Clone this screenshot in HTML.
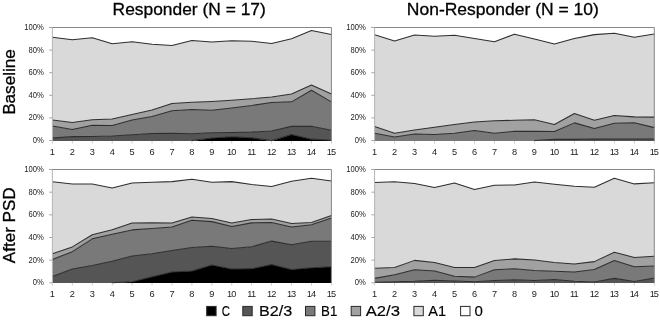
<!DOCTYPE html>
<html><head><meta charset="utf-8"><style>
html,body{margin:0;padding:0;background:#fff;}
body{width:660px;height:321px;overflow:hidden;}
svg{display:block;}
#w{filter:grayscale(1);width:660px;height:321px;}
text{font-family:"Liberation Sans",sans-serif;fill:#000;}
.yl{font-size:9px;fill:#222;}
.xl{font-size:9.2px;fill:#222;}
.lg{font-size:14px;stroke:#000;stroke-width:0.15px;}
.tt{font-size:17px;stroke:#000;stroke-width:0.3px;}
.rl{font-size:16.5px;stroke:#000;stroke-width:0.3px;}
</style></head><body><div id="w">
<svg width="660" height="321" viewBox="0 0 660 321">
<rect width="660" height="321" fill="#fff"/>
<text x="112.6" y="14.8" class="tt" textLength="153.2" lengthAdjust="spacingAndGlyphs">Responder (N = 17)</text>
<text x="406.8" y="14.8" class="tt" textLength="192" lengthAdjust="spacingAndGlyphs">Non-Responder (N = 10)</text>
<text transform="translate(14.6,114.8) rotate(-90)" class="rl" textLength="65.6" lengthAdjust="spacingAndGlyphs">Baseline</text>
<text transform="translate(14.8,263.2) rotate(-90)" class="rl" textLength="75.8" lengthAdjust="spacingAndGlyphs">After PSD</text>
<rect x="52.4" y="27.5" width="279" height="113" fill="#fff"/>
<polygon points="52.4,141 72.33,141 92.26,141 112.19,141 132.11,141 152.04,141 171.97,141 191.9,141 211.83,137.9 231.76,136.66 251.69,137.79 271.61,141 291.54,134.51 311.47,139.14 331.4,140.16 331.4,141 311.47,141 291.54,141 271.61,141 251.69,141 231.76,141 211.83,141 191.9,141 171.97,141 152.04,141 132.11,141 112.19,141 92.26,141 72.33,141 52.4,141" fill="#000000"/>
<polygon points="52.4,138.13 72.33,136.6 92.26,136.49 112.19,135.92 132.11,134.74 152.04,133.49 171.97,133.27 191.9,133.83 211.83,132.82 231.76,132.59 251.69,132.14 271.61,131.01 291.54,126.38 311.47,126.26 331.4,130.33 331.4,140.16 311.47,139.14 291.54,134.51 271.61,141 251.69,137.79 231.76,136.66 211.83,137.9 191.9,141 171.97,141 152.04,141 132.11,141 112.19,141 92.26,141 72.33,141 52.4,141" fill="#555555"/>
<polygon points="52.4,125.92 72.33,129.6 92.26,125.36 112.19,125.47 132.11,120.05 152.04,116.54 171.97,110.67 191.9,109.54 211.83,110.22 231.76,107.96 251.69,105.47 271.61,102.53 291.54,101.85 311.47,90.22 331.4,101.85 331.4,130.33 311.47,126.26 291.54,126.38 271.61,131.01 251.69,132.14 231.76,132.59 211.83,132.82 191.9,133.83 171.97,133.27 152.04,133.49 132.11,134.74 112.19,135.92 92.26,136.49 72.33,136.6 52.4,138.13" fill="#797979"/>
<polygon points="52.4,120.05 72.33,122.42 92.26,119.82 112.19,118.92 132.11,114.4 152.04,109.99 171.97,103.44 191.9,102.31 211.83,101.4 231.76,100.16 251.69,98.8 271.61,97 291.54,94.06 311.47,85.02 331.4,94.06 331.4,101.85 311.47,90.22 291.54,101.85 271.61,102.53 251.69,105.47 231.76,107.96 211.83,110.22 191.9,109.54 171.97,110.67 152.04,116.54 132.11,120.05 112.19,125.47 92.26,125.36 72.33,129.6 52.4,125.92" fill="#a1a1a1"/>
<polygon points="52.4,37.22 72.33,39.82 92.26,37.67 112.19,43.66 132.11,41.74 152.04,44.22 171.97,45.47 191.9,40.5 211.83,41.96 231.76,40.72 251.69,41.29 271.61,43.55 291.54,38.69 311.47,30.44 331.4,34.39 331.4,94.06 311.47,85.02 291.54,94.06 271.61,97 251.69,98.8 231.76,100.16 211.83,101.4 191.9,102.31 171.97,103.44 152.04,109.99 132.11,114.4 112.19,118.92 92.26,119.82 72.33,122.42 52.4,120.05" fill="#d9d9d9"/>
<polyline points="191.9,140.5 211.83,137.9 231.76,136.66 251.69,137.79 271.61,140.5 291.54,134.51 311.47,139.14 331.4,140.16" fill="none" stroke="#2e2e2e" stroke-width="1.05" stroke-linejoin="round"/>
<polyline points="52.4,138.13 72.33,136.6 92.26,136.49 112.19,135.92 132.11,134.74 152.04,133.49 171.97,133.27 191.9,133.83 211.83,132.82 231.76,132.59 251.69,132.14 271.61,131.01 291.54,126.38 311.47,126.26 331.4,130.33" fill="none" stroke="#2e2e2e" stroke-width="1.05" stroke-linejoin="round"/>
<polyline points="52.4,125.92 72.33,129.6 92.26,125.36 112.19,125.47 132.11,120.05 152.04,116.54 171.97,110.67 191.9,109.54 211.83,110.22 231.76,107.96 251.69,105.47 271.61,102.53 291.54,101.85 311.47,90.22 331.4,101.85" fill="none" stroke="#2e2e2e" stroke-width="1.05" stroke-linejoin="round"/>
<polyline points="52.4,120.05 72.33,122.42 92.26,119.82 112.19,118.92 132.11,114.4 152.04,109.99 171.97,103.44 191.9,102.31 211.83,101.4 231.76,100.16 251.69,98.8 271.61,97 291.54,94.06 311.47,85.02 331.4,94.06" fill="none" stroke="#2e2e2e" stroke-width="1.05" stroke-linejoin="round"/>
<polyline points="52.4,37.22 72.33,39.82 92.26,37.67 112.19,43.66 132.11,41.74 152.04,44.22 171.97,45.47 191.9,40.5 211.83,41.96 231.76,40.72 251.69,41.29 271.61,43.55 291.54,38.69 311.47,30.44 331.4,34.39" fill="none" stroke="#2e2e2e" stroke-width="1.05" stroke-linejoin="round"/>
<line x1="49.2" y1="27.5" x2="331.4" y2="27.5" stroke="#868686" stroke-width="1"/>
<line x1="331.4" y1="27.5" x2="331.4" y2="141" stroke="#868686" stroke-width="1"/>
<line x1="52.4" y1="27.5" x2="52.4" y2="141" stroke="#b4b4b4" stroke-width="1"/>
<line x1="49.2" y1="140.5" x2="52.4" y2="140.5" stroke="#a6a6a6" stroke-width="1"/>
<text x="43.9" y="142.97" class="yl" text-anchor="end" textLength="11.06" lengthAdjust="spacingAndGlyphs">0%</text>
<line x1="49.2" y1="117.9" x2="52.4" y2="117.9" stroke="#a6a6a6" stroke-width="1"/>
<text x="43.9" y="120.37" class="yl" text-anchor="end" textLength="15.31" lengthAdjust="spacingAndGlyphs">20%</text>
<line x1="49.2" y1="95.3" x2="52.4" y2="95.3" stroke="#a6a6a6" stroke-width="1"/>
<text x="43.9" y="97.77" class="yl" text-anchor="end" textLength="15.31" lengthAdjust="spacingAndGlyphs">40%</text>
<line x1="49.2" y1="72.7" x2="52.4" y2="72.7" stroke="#a6a6a6" stroke-width="1"/>
<text x="43.9" y="75.17" class="yl" text-anchor="end" textLength="15.31" lengthAdjust="spacingAndGlyphs">60%</text>
<line x1="49.2" y1="50.1" x2="52.4" y2="50.1" stroke="#a6a6a6" stroke-width="1"/>
<text x="43.9" y="52.57" class="yl" text-anchor="end" textLength="15.31" lengthAdjust="spacingAndGlyphs">80%</text>
<line x1="49.2" y1="27.5" x2="52.4" y2="27.5" stroke="#a6a6a6" stroke-width="1"/>
<text x="43.9" y="29.97" class="yl" text-anchor="end" textLength="19.56" lengthAdjust="spacingAndGlyphs">100%</text>
<line x1="52.4" y1="141" x2="52.4" y2="143.6" stroke="#c0c0c0" stroke-width="0.8"/>
<text x="52.4" y="155" class="xl" text-anchor="middle">1</text>
<line x1="72.33" y1="141" x2="72.33" y2="143.6" stroke="#c0c0c0" stroke-width="0.8"/>
<text x="72.33" y="155" class="xl" text-anchor="middle">2</text>
<line x1="92.26" y1="141" x2="92.26" y2="143.6" stroke="#c0c0c0" stroke-width="0.8"/>
<text x="92.26" y="155" class="xl" text-anchor="middle">3</text>
<line x1="112.19" y1="141" x2="112.19" y2="143.6" stroke="#c0c0c0" stroke-width="0.8"/>
<text x="112.19" y="155" class="xl" text-anchor="middle">4</text>
<line x1="132.11" y1="141" x2="132.11" y2="143.6" stroke="#c0c0c0" stroke-width="0.8"/>
<text x="132.11" y="155" class="xl" text-anchor="middle">5</text>
<line x1="152.04" y1="141" x2="152.04" y2="143.6" stroke="#c0c0c0" stroke-width="0.8"/>
<text x="152.04" y="155" class="xl" text-anchor="middle">6</text>
<line x1="171.97" y1="141" x2="171.97" y2="143.6" stroke="#c0c0c0" stroke-width="0.8"/>
<text x="171.97" y="155" class="xl" text-anchor="middle">7</text>
<line x1="191.9" y1="141" x2="191.9" y2="143.6" stroke="#c0c0c0" stroke-width="0.8"/>
<text x="191.9" y="155" class="xl" text-anchor="middle">8</text>
<line x1="211.83" y1="141" x2="211.83" y2="143.6" stroke="#c0c0c0" stroke-width="0.8"/>
<text x="211.83" y="155" class="xl" text-anchor="middle">9</text>
<line x1="231.76" y1="141" x2="231.76" y2="143.6" stroke="#c0c0c0" stroke-width="0.8"/>
<text x="231.76" y="155" class="xl" text-anchor="middle" textLength="9.31" lengthAdjust="spacing">10</text>
<line x1="251.69" y1="141" x2="251.69" y2="143.6" stroke="#c0c0c0" stroke-width="0.8"/>
<text x="251.69" y="155" class="xl" text-anchor="middle" textLength="8.69" lengthAdjust="spacing">11</text>
<line x1="271.61" y1="141" x2="271.61" y2="143.6" stroke="#c0c0c0" stroke-width="0.8"/>
<text x="271.61" y="155" class="xl" text-anchor="middle" textLength="9.31" lengthAdjust="spacing">12</text>
<line x1="291.54" y1="141" x2="291.54" y2="143.6" stroke="#c0c0c0" stroke-width="0.8"/>
<text x="291.54" y="155" class="xl" text-anchor="middle" textLength="9.31" lengthAdjust="spacing">13</text>
<line x1="311.47" y1="141" x2="311.47" y2="143.6" stroke="#c0c0c0" stroke-width="0.8"/>
<text x="311.47" y="155" class="xl" text-anchor="middle" textLength="9.31" lengthAdjust="spacing">14</text>
<line x1="331.4" y1="141" x2="331.4" y2="143.6" stroke="#c0c0c0" stroke-width="0.8"/>
<text x="331.4" y="155" class="xl" text-anchor="middle" textLength="9.31" lengthAdjust="spacing">15</text>
<rect x="374.6" y="27.5" width="279.7" height="113" fill="#fff"/>
<polygon points="374.6,141 394.58,141 414.56,141 434.54,141 454.51,141 474.49,141 494.47,141 514.45,141 534.43,141 554.41,141 574.39,141 594.36,141 614.34,141 634.32,141 654.3,141 654.3,141 634.32,141 614.34,141 594.36,141 574.39,141 554.41,141 534.43,141 514.45,141 494.47,141 474.49,141 454.51,141 434.54,141 414.56,141 394.58,141 374.6,141" fill="#000000"/>
<polygon points="374.6,141 394.58,141 414.56,141 434.54,141 454.51,141 474.49,141 494.47,141 514.45,141 534.43,141 554.41,139.37 574.39,139.37 594.36,139.03 614.34,139.14 634.32,139.14 654.3,139.14 654.3,141 634.32,141 614.34,141 594.36,141 574.39,141 554.41,141 534.43,141 514.45,141 494.47,141 474.49,141 454.51,141 434.54,141 414.56,141 394.58,141 374.6,141" fill="#555555"/>
<polygon points="374.6,133.27 394.58,137 414.56,134.06 434.54,134.4 454.51,133.27 474.49,130.56 494.47,133.16 514.45,131.35 534.43,131.23 554.41,131.57 574.39,122.87 594.36,128.52 614.34,123.21 634.32,122.65 654.3,127.62 654.3,139.14 634.32,139.14 614.34,139.14 594.36,139.03 574.39,139.37 554.41,139.37 534.43,141 514.45,141 494.47,141 474.49,141 454.51,141 434.54,141 414.56,141 394.58,141 374.6,141" fill="#797979"/>
<polygon points="374.6,126.38 394.58,133.16 414.56,129.99 434.54,127.17 454.51,124.45 474.49,122.08 494.47,120.84 514.45,120.27 534.43,119.71 554.41,124.57 574.39,113.49 594.36,120.16 614.34,115.53 634.32,116.88 654.3,117.11 654.3,127.62 634.32,122.65 614.34,123.21 594.36,128.52 574.39,122.87 554.41,131.57 534.43,131.23 514.45,131.35 494.47,133.16 474.49,130.56 454.51,133.27 434.54,134.4 414.56,134.06 394.58,137 374.6,133.27" fill="#a1a1a1"/>
<polygon points="374.6,34.73 394.58,41.06 414.56,35.07 434.54,36.2 454.51,35.3 474.49,38.57 494.47,41.85 514.45,34.17 534.43,38.91 554.41,44.11 574.39,38.46 594.36,34.62 614.34,33.26 634.32,37.33 654.3,34.05 654.3,117.11 634.32,116.88 614.34,115.53 594.36,120.16 574.39,113.49 554.41,124.57 534.43,119.71 514.45,120.27 494.47,120.84 474.49,122.08 454.51,124.45 434.54,127.17 414.56,129.99 394.58,133.16 374.6,126.38" fill="#d9d9d9"/>
<polyline points="534.43,140.5 554.41,139.37 574.39,139.37 594.36,139.03 614.34,139.14 634.32,139.14 654.3,139.14" fill="none" stroke="#2e2e2e" stroke-width="1.05" stroke-linejoin="round"/>
<polyline points="374.6,133.27 394.58,137 414.56,134.06 434.54,134.4 454.51,133.27 474.49,130.56 494.47,133.16 514.45,131.35 534.43,131.23 554.41,131.57 574.39,122.87 594.36,128.52 614.34,123.21 634.32,122.65 654.3,127.62" fill="none" stroke="#2e2e2e" stroke-width="1.05" stroke-linejoin="round"/>
<polyline points="374.6,126.38 394.58,133.16 414.56,129.99 434.54,127.17 454.51,124.45 474.49,122.08 494.47,120.84 514.45,120.27 534.43,119.71 554.41,124.57 574.39,113.49 594.36,120.16 614.34,115.53 634.32,116.88 654.3,117.11" fill="none" stroke="#2e2e2e" stroke-width="1.05" stroke-linejoin="round"/>
<polyline points="374.6,34.73 394.58,41.06 414.56,35.07 434.54,36.2 454.51,35.3 474.49,38.57 494.47,41.85 514.45,34.17 534.43,38.91 554.41,44.11 574.39,38.46 594.36,34.62 614.34,33.26 634.32,37.33 654.3,34.05" fill="none" stroke="#2e2e2e" stroke-width="1.05" stroke-linejoin="round"/>
<line x1="371.4" y1="27.5" x2="654.3" y2="27.5" stroke="#868686" stroke-width="1"/>
<line x1="654.3" y1="27.5" x2="654.3" y2="141" stroke="#868686" stroke-width="1"/>
<line x1="374.6" y1="27.5" x2="374.6" y2="141" stroke="#b4b4b4" stroke-width="1"/>
<line x1="371.4" y1="140.5" x2="374.6" y2="140.5" stroke="#a6a6a6" stroke-width="1"/>
<text x="365.9" y="142.97" class="yl" text-anchor="end" textLength="11.06" lengthAdjust="spacingAndGlyphs">0%</text>
<line x1="371.4" y1="117.9" x2="374.6" y2="117.9" stroke="#a6a6a6" stroke-width="1"/>
<text x="365.9" y="120.37" class="yl" text-anchor="end" textLength="15.31" lengthAdjust="spacingAndGlyphs">20%</text>
<line x1="371.4" y1="95.3" x2="374.6" y2="95.3" stroke="#a6a6a6" stroke-width="1"/>
<text x="365.9" y="97.77" class="yl" text-anchor="end" textLength="15.31" lengthAdjust="spacingAndGlyphs">40%</text>
<line x1="371.4" y1="72.7" x2="374.6" y2="72.7" stroke="#a6a6a6" stroke-width="1"/>
<text x="365.9" y="75.17" class="yl" text-anchor="end" textLength="15.31" lengthAdjust="spacingAndGlyphs">60%</text>
<line x1="371.4" y1="50.1" x2="374.6" y2="50.1" stroke="#a6a6a6" stroke-width="1"/>
<text x="365.9" y="52.57" class="yl" text-anchor="end" textLength="15.31" lengthAdjust="spacingAndGlyphs">80%</text>
<line x1="371.4" y1="27.5" x2="374.6" y2="27.5" stroke="#a6a6a6" stroke-width="1"/>
<text x="365.9" y="29.97" class="yl" text-anchor="end" textLength="19.56" lengthAdjust="spacingAndGlyphs">100%</text>
<line x1="374.6" y1="141" x2="374.6" y2="143.6" stroke="#c0c0c0" stroke-width="0.8"/>
<text x="374.6" y="155" class="xl" text-anchor="middle">1</text>
<line x1="394.58" y1="141" x2="394.58" y2="143.6" stroke="#c0c0c0" stroke-width="0.8"/>
<text x="394.58" y="155" class="xl" text-anchor="middle">2</text>
<line x1="414.56" y1="141" x2="414.56" y2="143.6" stroke="#c0c0c0" stroke-width="0.8"/>
<text x="414.56" y="155" class="xl" text-anchor="middle">3</text>
<line x1="434.54" y1="141" x2="434.54" y2="143.6" stroke="#c0c0c0" stroke-width="0.8"/>
<text x="434.54" y="155" class="xl" text-anchor="middle">4</text>
<line x1="454.51" y1="141" x2="454.51" y2="143.6" stroke="#c0c0c0" stroke-width="0.8"/>
<text x="454.51" y="155" class="xl" text-anchor="middle">5</text>
<line x1="474.49" y1="141" x2="474.49" y2="143.6" stroke="#c0c0c0" stroke-width="0.8"/>
<text x="474.49" y="155" class="xl" text-anchor="middle">6</text>
<line x1="494.47" y1="141" x2="494.47" y2="143.6" stroke="#c0c0c0" stroke-width="0.8"/>
<text x="494.47" y="155" class="xl" text-anchor="middle">7</text>
<line x1="514.45" y1="141" x2="514.45" y2="143.6" stroke="#c0c0c0" stroke-width="0.8"/>
<text x="514.45" y="155" class="xl" text-anchor="middle">8</text>
<line x1="534.43" y1="141" x2="534.43" y2="143.6" stroke="#c0c0c0" stroke-width="0.8"/>
<text x="534.43" y="155" class="xl" text-anchor="middle">9</text>
<line x1="554.41" y1="141" x2="554.41" y2="143.6" stroke="#c0c0c0" stroke-width="0.8"/>
<text x="554.41" y="155" class="xl" text-anchor="middle" textLength="9.31" lengthAdjust="spacing">10</text>
<line x1="574.39" y1="141" x2="574.39" y2="143.6" stroke="#c0c0c0" stroke-width="0.8"/>
<text x="574.39" y="155" class="xl" text-anchor="middle" textLength="8.69" lengthAdjust="spacing">11</text>
<line x1="594.36" y1="141" x2="594.36" y2="143.6" stroke="#c0c0c0" stroke-width="0.8"/>
<text x="594.36" y="155" class="xl" text-anchor="middle" textLength="9.31" lengthAdjust="spacing">12</text>
<line x1="614.34" y1="141" x2="614.34" y2="143.6" stroke="#c0c0c0" stroke-width="0.8"/>
<text x="614.34" y="155" class="xl" text-anchor="middle" textLength="9.31" lengthAdjust="spacing">13</text>
<line x1="634.32" y1="141" x2="634.32" y2="143.6" stroke="#c0c0c0" stroke-width="0.8"/>
<text x="634.32" y="155" class="xl" text-anchor="middle" textLength="9.31" lengthAdjust="spacing">14</text>
<line x1="654.3" y1="141" x2="654.3" y2="143.6" stroke="#c0c0c0" stroke-width="0.8"/>
<text x="654.3" y="155" class="xl" text-anchor="middle" textLength="9.31" lengthAdjust="spacing">15</text>
<rect x="52.4" y="169.5" width="279" height="113.3" fill="#fff"/>
<polygon points="52.4,283 72.33,283 92.26,283 112.19,283 132.11,281.67 152.04,276.68 171.97,271.92 191.9,270.9 211.83,264.9 231.76,269.09 251.69,268.64 271.61,264.56 291.54,269.54 311.47,267.73 331.4,266.82 331.4,283 311.47,283 291.54,283 271.61,283 251.69,283 231.76,283 211.83,283 191.9,283 171.97,283 152.04,283 132.11,283 112.19,283 92.26,283 72.33,283 52.4,283" fill="#000000"/>
<polygon points="52.4,276.46 72.33,269.09 92.26,265.47 112.19,261.16 132.11,256.06 152.04,253.8 171.97,250.4 191.9,247.45 211.83,246.32 231.76,248.58 251.69,246.77 271.61,241.11 291.54,244.73 311.47,241.33 331.4,241.33 331.4,266.82 311.47,267.73 291.54,269.54 271.61,264.56 251.69,268.64 231.76,269.09 211.83,264.9 191.9,270.9 171.97,271.92 152.04,276.68 132.11,281.67 112.19,283 92.26,283 72.33,283 52.4,283" fill="#555555"/>
<polygon points="52.4,259.46 72.33,251.64 92.26,238.84 112.19,234.31 132.11,229.89 152.04,228.53 171.97,226.94 191.9,220.15 211.83,221.62 231.76,226.49 251.69,222.86 271.61,222.41 291.54,226.94 311.47,224.68 331.4,217.88 331.4,241.33 311.47,241.33 291.54,244.73 271.61,241.11 251.69,246.77 231.76,248.58 211.83,246.32 191.9,247.45 171.97,250.4 152.04,253.8 132.11,256.06 112.19,261.16 92.26,265.47 72.33,269.09 52.4,276.46" fill="#797979"/>
<polygon points="52.4,253.8 72.33,246.88 92.26,234.76 112.19,229.78 132.11,222.98 152.04,222.86 171.97,223.09 191.9,217.09 211.83,218.56 231.76,223.09 251.69,219.58 271.61,218.9 291.54,223.54 311.47,222.41 331.4,215.5 331.4,217.88 311.47,224.68 291.54,226.94 271.61,222.41 251.69,222.86 231.76,226.49 211.83,221.62 191.9,220.15 171.97,226.94 152.04,228.53 132.11,229.89 112.19,234.31 92.26,238.84 72.33,251.64 52.4,259.46" fill="#a1a1a1"/>
<polygon points="52.4,181.85 72.33,184 92.26,184 112.19,188.08 132.11,182.98 152.04,182.3 171.97,181.62 191.9,179.24 211.83,182.19 231.76,181.62 251.69,184.57 271.61,186.5 291.54,181.17 311.47,178.22 331.4,180.94 331.4,215.5 311.47,222.41 291.54,223.54 271.61,218.9 251.69,219.58 231.76,223.09 211.83,218.56 191.9,217.09 171.97,223.09 152.04,222.86 132.11,222.98 112.19,229.78 92.26,234.76 72.33,246.88 52.4,253.8" fill="#d9d9d9"/>
<polyline points="112.19,282.8 132.11,281.67 152.04,276.68 171.97,271.92 191.9,270.9 211.83,264.9 231.76,269.09 251.69,268.64 271.61,264.56 291.54,269.54 311.47,267.73 331.4,266.82" fill="none" stroke="#2e2e2e" stroke-width="1.05" stroke-linejoin="round"/>
<polyline points="52.4,276.46 72.33,269.09 92.26,265.47 112.19,261.16 132.11,256.06 152.04,253.8 171.97,250.4 191.9,247.45 211.83,246.32 231.76,248.58 251.69,246.77 271.61,241.11 291.54,244.73 311.47,241.33 331.4,241.33" fill="none" stroke="#2e2e2e" stroke-width="1.05" stroke-linejoin="round"/>
<polyline points="52.4,259.46 72.33,251.64 92.26,238.84 112.19,234.31 132.11,229.89 152.04,228.53 171.97,226.94 191.9,220.15 211.83,221.62 231.76,226.49 251.69,222.86 271.61,222.41 291.54,226.94 311.47,224.68 331.4,217.88" fill="none" stroke="#2e2e2e" stroke-width="1.05" stroke-linejoin="round"/>
<polyline points="52.4,253.8 72.33,246.88 92.26,234.76 112.19,229.78 132.11,222.98 152.04,222.86 171.97,223.09 191.9,217.09 211.83,218.56 231.76,223.09 251.69,219.58 271.61,218.9 291.54,223.54 311.47,222.41 331.4,215.5" fill="none" stroke="#2e2e2e" stroke-width="1.05" stroke-linejoin="round"/>
<polyline points="52.4,181.85 72.33,184 92.26,184 112.19,188.08 132.11,182.98 152.04,182.3 171.97,181.62 191.9,179.24 211.83,182.19 231.76,181.62 251.69,184.57 271.61,186.5 291.54,181.17 311.47,178.22 331.4,180.94" fill="none" stroke="#2e2e2e" stroke-width="1.05" stroke-linejoin="round"/>
<line x1="49.2" y1="169.5" x2="331.4" y2="169.5" stroke="#868686" stroke-width="1"/>
<line x1="331.4" y1="169.5" x2="331.4" y2="283" stroke="#868686" stroke-width="1"/>
<line x1="52.4" y1="169.5" x2="52.4" y2="283" stroke="#b4b4b4" stroke-width="1"/>
<line x1="49.2" y1="282.8" x2="52.4" y2="282.8" stroke="#a6a6a6" stroke-width="1"/>
<text x="43.9" y="285.27" class="yl" text-anchor="end" textLength="11.06" lengthAdjust="spacingAndGlyphs">0%</text>
<line x1="49.2" y1="260.14" x2="52.4" y2="260.14" stroke="#a6a6a6" stroke-width="1"/>
<text x="43.9" y="262.61" class="yl" text-anchor="end" textLength="15.31" lengthAdjust="spacingAndGlyphs">20%</text>
<line x1="49.2" y1="237.48" x2="52.4" y2="237.48" stroke="#a6a6a6" stroke-width="1"/>
<text x="43.9" y="239.95" class="yl" text-anchor="end" textLength="15.31" lengthAdjust="spacingAndGlyphs">40%</text>
<line x1="49.2" y1="214.82" x2="52.4" y2="214.82" stroke="#a6a6a6" stroke-width="1"/>
<text x="43.9" y="217.29" class="yl" text-anchor="end" textLength="15.31" lengthAdjust="spacingAndGlyphs">60%</text>
<line x1="49.2" y1="192.16" x2="52.4" y2="192.16" stroke="#a6a6a6" stroke-width="1"/>
<text x="43.9" y="194.63" class="yl" text-anchor="end" textLength="15.31" lengthAdjust="spacingAndGlyphs">80%</text>
<line x1="49.2" y1="169.5" x2="52.4" y2="169.5" stroke="#a6a6a6" stroke-width="1"/>
<text x="43.9" y="171.97" class="yl" text-anchor="end" textLength="19.56" lengthAdjust="spacingAndGlyphs">100%</text>
<line x1="52.4" y1="283" x2="52.4" y2="285.6" stroke="#c0c0c0" stroke-width="0.8"/>
<text x="52.4" y="297" class="xl" text-anchor="middle">1</text>
<line x1="72.33" y1="283" x2="72.33" y2="285.6" stroke="#c0c0c0" stroke-width="0.8"/>
<text x="72.33" y="297" class="xl" text-anchor="middle">2</text>
<line x1="92.26" y1="283" x2="92.26" y2="285.6" stroke="#c0c0c0" stroke-width="0.8"/>
<text x="92.26" y="297" class="xl" text-anchor="middle">3</text>
<line x1="112.19" y1="283" x2="112.19" y2="285.6" stroke="#c0c0c0" stroke-width="0.8"/>
<text x="112.19" y="297" class="xl" text-anchor="middle">4</text>
<line x1="132.11" y1="283" x2="132.11" y2="285.6" stroke="#c0c0c0" stroke-width="0.8"/>
<text x="132.11" y="297" class="xl" text-anchor="middle">5</text>
<line x1="152.04" y1="283" x2="152.04" y2="285.6" stroke="#c0c0c0" stroke-width="0.8"/>
<text x="152.04" y="297" class="xl" text-anchor="middle">6</text>
<line x1="171.97" y1="283" x2="171.97" y2="285.6" stroke="#c0c0c0" stroke-width="0.8"/>
<text x="171.97" y="297" class="xl" text-anchor="middle">7</text>
<line x1="191.9" y1="283" x2="191.9" y2="285.6" stroke="#c0c0c0" stroke-width="0.8"/>
<text x="191.9" y="297" class="xl" text-anchor="middle">8</text>
<line x1="211.83" y1="283" x2="211.83" y2="285.6" stroke="#c0c0c0" stroke-width="0.8"/>
<text x="211.83" y="297" class="xl" text-anchor="middle">9</text>
<line x1="231.76" y1="283" x2="231.76" y2="285.6" stroke="#c0c0c0" stroke-width="0.8"/>
<text x="231.76" y="297" class="xl" text-anchor="middle" textLength="9.31" lengthAdjust="spacing">10</text>
<line x1="251.69" y1="283" x2="251.69" y2="285.6" stroke="#c0c0c0" stroke-width="0.8"/>
<text x="251.69" y="297" class="xl" text-anchor="middle" textLength="8.69" lengthAdjust="spacing">11</text>
<line x1="271.61" y1="283" x2="271.61" y2="285.6" stroke="#c0c0c0" stroke-width="0.8"/>
<text x="271.61" y="297" class="xl" text-anchor="middle" textLength="9.31" lengthAdjust="spacing">12</text>
<line x1="291.54" y1="283" x2="291.54" y2="285.6" stroke="#c0c0c0" stroke-width="0.8"/>
<text x="291.54" y="297" class="xl" text-anchor="middle" textLength="9.31" lengthAdjust="spacing">13</text>
<line x1="311.47" y1="283" x2="311.47" y2="285.6" stroke="#c0c0c0" stroke-width="0.8"/>
<text x="311.47" y="297" class="xl" text-anchor="middle" textLength="9.31" lengthAdjust="spacing">14</text>
<line x1="331.4" y1="283" x2="331.4" y2="285.6" stroke="#c0c0c0" stroke-width="0.8"/>
<text x="331.4" y="297" class="xl" text-anchor="middle" textLength="9.31" lengthAdjust="spacing">15</text>
<rect x="374.6" y="169.5" width="279.7" height="113.3" fill="#fff"/>
<polygon points="374.6,283 394.58,283 414.56,283 434.54,283 454.51,283 474.49,283 494.47,283 514.45,283 534.43,283 554.41,283 574.39,283 594.36,283 614.34,283 634.32,283 654.3,283 654.3,283 634.32,283 614.34,283 594.36,283 574.39,283 554.41,283 534.43,283 514.45,283 494.47,283 474.49,283 454.51,283 434.54,283 414.56,283 394.58,283 374.6,283" fill="#000000"/>
<polygon points="374.6,282.23 394.58,281.67 414.56,281.33 434.54,280.31 454.51,280.99 474.49,281.67 494.47,280.53 514.45,279.85 534.43,280.53 554.41,279.4 574.39,281.21 594.36,282.01 614.34,278.38 634.32,281.44 654.3,278.04 654.3,283 634.32,283 614.34,283 594.36,283 574.39,283 554.41,283 534.43,283 514.45,283 494.47,283 474.49,283 454.51,283 434.54,283 414.56,283 394.58,283 374.6,283" fill="#555555"/>
<polygon points="374.6,278.38 394.58,274.76 414.56,269.77 434.54,270.9 454.51,276.23 474.49,277.13 494.47,269.77 514.45,268.75 534.43,270.56 554.41,271.24 574.39,272.04 594.36,269.43 614.34,260.59 634.32,266.71 654.3,266.03 654.3,278.04 634.32,281.44 614.34,278.38 594.36,282.01 574.39,281.21 554.41,279.4 534.43,280.53 514.45,279.85 494.47,280.53 474.49,281.67 454.51,280.99 434.54,280.31 414.56,281.33 394.58,281.67 374.6,282.23" fill="#797979"/>
<polygon points="374.6,268.3 394.58,267.5 414.56,260.37 434.54,262.52 454.51,267.5 474.49,267.5 494.47,260.48 514.45,258.89 534.43,260.03 554.41,262.41 574.39,263.99 594.36,261.61 614.34,252.21 634.32,257.42 654.3,256.17 654.3,266.03 634.32,266.71 614.34,260.59 594.36,269.43 574.39,272.04 554.41,271.24 534.43,270.56 514.45,268.75 494.47,269.77 474.49,277.13 454.51,276.23 434.54,270.9 414.56,269.77 394.58,274.76 374.6,278.38" fill="#a1a1a1"/>
<polygon points="374.6,182.42 394.58,181.74 414.56,183.55 434.54,187.4 454.51,183.1 474.49,189.44 494.47,185.25 514.45,185.02 534.43,182.08 554.41,184.34 574.39,186.16 594.36,187.29 614.34,178.22 634.32,183.89 654.3,182.76 654.3,256.17 634.32,257.42 614.34,252.21 594.36,261.61 574.39,263.99 554.41,262.41 534.43,260.03 514.45,258.89 494.47,260.48 474.49,267.5 454.51,267.5 434.54,262.52 414.56,260.37 394.58,267.5 374.6,268.3" fill="#d9d9d9"/>
<polyline points="374.6,282.23 394.58,281.67 414.56,281.33 434.54,280.31 454.51,280.99 474.49,281.67 494.47,280.53 514.45,279.85 534.43,280.53 554.41,279.4 574.39,281.21 594.36,282.01 614.34,278.38 634.32,281.44 654.3,278.04" fill="none" stroke="#2e2e2e" stroke-width="1.05" stroke-linejoin="round"/>
<polyline points="374.6,278.38 394.58,274.76 414.56,269.77 434.54,270.9 454.51,276.23 474.49,277.13 494.47,269.77 514.45,268.75 534.43,270.56 554.41,271.24 574.39,272.04 594.36,269.43 614.34,260.59 634.32,266.71 654.3,266.03" fill="none" stroke="#2e2e2e" stroke-width="1.05" stroke-linejoin="round"/>
<polyline points="374.6,268.3 394.58,267.5 414.56,260.37 434.54,262.52 454.51,267.5 474.49,267.5 494.47,260.48 514.45,258.89 534.43,260.03 554.41,262.41 574.39,263.99 594.36,261.61 614.34,252.21 634.32,257.42 654.3,256.17" fill="none" stroke="#2e2e2e" stroke-width="1.05" stroke-linejoin="round"/>
<polyline points="374.6,182.42 394.58,181.74 414.56,183.55 434.54,187.4 454.51,183.1 474.49,189.44 494.47,185.25 514.45,185.02 534.43,182.08 554.41,184.34 574.39,186.16 594.36,187.29 614.34,178.22 634.32,183.89 654.3,182.76" fill="none" stroke="#2e2e2e" stroke-width="1.05" stroke-linejoin="round"/>
<line x1="371.4" y1="169.5" x2="654.3" y2="169.5" stroke="#868686" stroke-width="1"/>
<line x1="654.3" y1="169.5" x2="654.3" y2="283" stroke="#868686" stroke-width="1"/>
<line x1="374.6" y1="169.5" x2="374.6" y2="283" stroke="#b4b4b4" stroke-width="1"/>
<line x1="371.4" y1="282.8" x2="374.6" y2="282.8" stroke="#a6a6a6" stroke-width="1"/>
<text x="365.9" y="285.27" class="yl" text-anchor="end" textLength="11.06" lengthAdjust="spacingAndGlyphs">0%</text>
<line x1="371.4" y1="260.14" x2="374.6" y2="260.14" stroke="#a6a6a6" stroke-width="1"/>
<text x="365.9" y="262.61" class="yl" text-anchor="end" textLength="15.31" lengthAdjust="spacingAndGlyphs">20%</text>
<line x1="371.4" y1="237.48" x2="374.6" y2="237.48" stroke="#a6a6a6" stroke-width="1"/>
<text x="365.9" y="239.95" class="yl" text-anchor="end" textLength="15.31" lengthAdjust="spacingAndGlyphs">40%</text>
<line x1="371.4" y1="214.82" x2="374.6" y2="214.82" stroke="#a6a6a6" stroke-width="1"/>
<text x="365.9" y="217.29" class="yl" text-anchor="end" textLength="15.31" lengthAdjust="spacingAndGlyphs">60%</text>
<line x1="371.4" y1="192.16" x2="374.6" y2="192.16" stroke="#a6a6a6" stroke-width="1"/>
<text x="365.9" y="194.63" class="yl" text-anchor="end" textLength="15.31" lengthAdjust="spacingAndGlyphs">80%</text>
<line x1="371.4" y1="169.5" x2="374.6" y2="169.5" stroke="#a6a6a6" stroke-width="1"/>
<text x="365.9" y="171.97" class="yl" text-anchor="end" textLength="19.56" lengthAdjust="spacingAndGlyphs">100%</text>
<line x1="374.6" y1="283" x2="374.6" y2="285.6" stroke="#c0c0c0" stroke-width="0.8"/>
<text x="374.6" y="297" class="xl" text-anchor="middle">1</text>
<line x1="394.58" y1="283" x2="394.58" y2="285.6" stroke="#c0c0c0" stroke-width="0.8"/>
<text x="394.58" y="297" class="xl" text-anchor="middle">2</text>
<line x1="414.56" y1="283" x2="414.56" y2="285.6" stroke="#c0c0c0" stroke-width="0.8"/>
<text x="414.56" y="297" class="xl" text-anchor="middle">3</text>
<line x1="434.54" y1="283" x2="434.54" y2="285.6" stroke="#c0c0c0" stroke-width="0.8"/>
<text x="434.54" y="297" class="xl" text-anchor="middle">4</text>
<line x1="454.51" y1="283" x2="454.51" y2="285.6" stroke="#c0c0c0" stroke-width="0.8"/>
<text x="454.51" y="297" class="xl" text-anchor="middle">5</text>
<line x1="474.49" y1="283" x2="474.49" y2="285.6" stroke="#c0c0c0" stroke-width="0.8"/>
<text x="474.49" y="297" class="xl" text-anchor="middle">6</text>
<line x1="494.47" y1="283" x2="494.47" y2="285.6" stroke="#c0c0c0" stroke-width="0.8"/>
<text x="494.47" y="297" class="xl" text-anchor="middle">7</text>
<line x1="514.45" y1="283" x2="514.45" y2="285.6" stroke="#c0c0c0" stroke-width="0.8"/>
<text x="514.45" y="297" class="xl" text-anchor="middle">8</text>
<line x1="534.43" y1="283" x2="534.43" y2="285.6" stroke="#c0c0c0" stroke-width="0.8"/>
<text x="534.43" y="297" class="xl" text-anchor="middle">9</text>
<line x1="554.41" y1="283" x2="554.41" y2="285.6" stroke="#c0c0c0" stroke-width="0.8"/>
<text x="554.41" y="297" class="xl" text-anchor="middle" textLength="9.31" lengthAdjust="spacing">10</text>
<line x1="574.39" y1="283" x2="574.39" y2="285.6" stroke="#c0c0c0" stroke-width="0.8"/>
<text x="574.39" y="297" class="xl" text-anchor="middle" textLength="8.69" lengthAdjust="spacing">11</text>
<line x1="594.36" y1="283" x2="594.36" y2="285.6" stroke="#c0c0c0" stroke-width="0.8"/>
<text x="594.36" y="297" class="xl" text-anchor="middle" textLength="9.31" lengthAdjust="spacing">12</text>
<line x1="614.34" y1="283" x2="614.34" y2="285.6" stroke="#c0c0c0" stroke-width="0.8"/>
<text x="614.34" y="297" class="xl" text-anchor="middle" textLength="9.31" lengthAdjust="spacing">13</text>
<line x1="634.32" y1="283" x2="634.32" y2="285.6" stroke="#c0c0c0" stroke-width="0.8"/>
<text x="634.32" y="297" class="xl" text-anchor="middle" textLength="9.31" lengthAdjust="spacing">14</text>
<line x1="654.3" y1="283" x2="654.3" y2="285.6" stroke="#c0c0c0" stroke-width="0.8"/>
<text x="654.3" y="297" class="xl" text-anchor="middle" textLength="9.31" lengthAdjust="spacing">15</text>
<rect x="206.7" y="306.4" width="9.4" height="9.3" fill="#000000" stroke="#2a2a2a" stroke-width="1"/>
<rect x="242.8" y="306.4" width="9.4" height="9.3" fill="#555555" stroke="#2a2a2a" stroke-width="1"/>
<rect x="305.5" y="306.4" width="9.4" height="9.3" fill="#797979" stroke="#2a2a2a" stroke-width="1"/>
<rect x="351.2" y="306.4" width="9.4" height="9.3" fill="#a1a1a1" stroke="#2a2a2a" stroke-width="1"/>
<rect x="413.9" y="306.4" width="9.4" height="9.3" fill="#d9d9d9" stroke="#2a2a2a" stroke-width="1"/>
<rect x="460.6" y="306.4" width="9.4" height="9.3" fill="#ffffff" stroke="#2a2a2a" stroke-width="1"/>
<text x="221.8" y="316" class="lg" textLength="8.2" lengthAdjust="spacingAndGlyphs">C</text>
<text x="259.1" y="316" class="lg" textLength="33.2" lengthAdjust="spacingAndGlyphs">B2/3</text>
<text x="321.1" y="316" class="lg" textLength="16.2" lengthAdjust="spacingAndGlyphs">B1</text>
<text x="365.7" y="316" class="lg" textLength="34.3" lengthAdjust="spacingAndGlyphs">A2/3</text>
<text x="428.2" y="316" class="lg" textLength="17.8" lengthAdjust="spacingAndGlyphs">A1</text>
<text x="474.5" y="316" class="lg" textLength="8.4" lengthAdjust="spacingAndGlyphs">0</text>
</svg></div>
</body></html>
